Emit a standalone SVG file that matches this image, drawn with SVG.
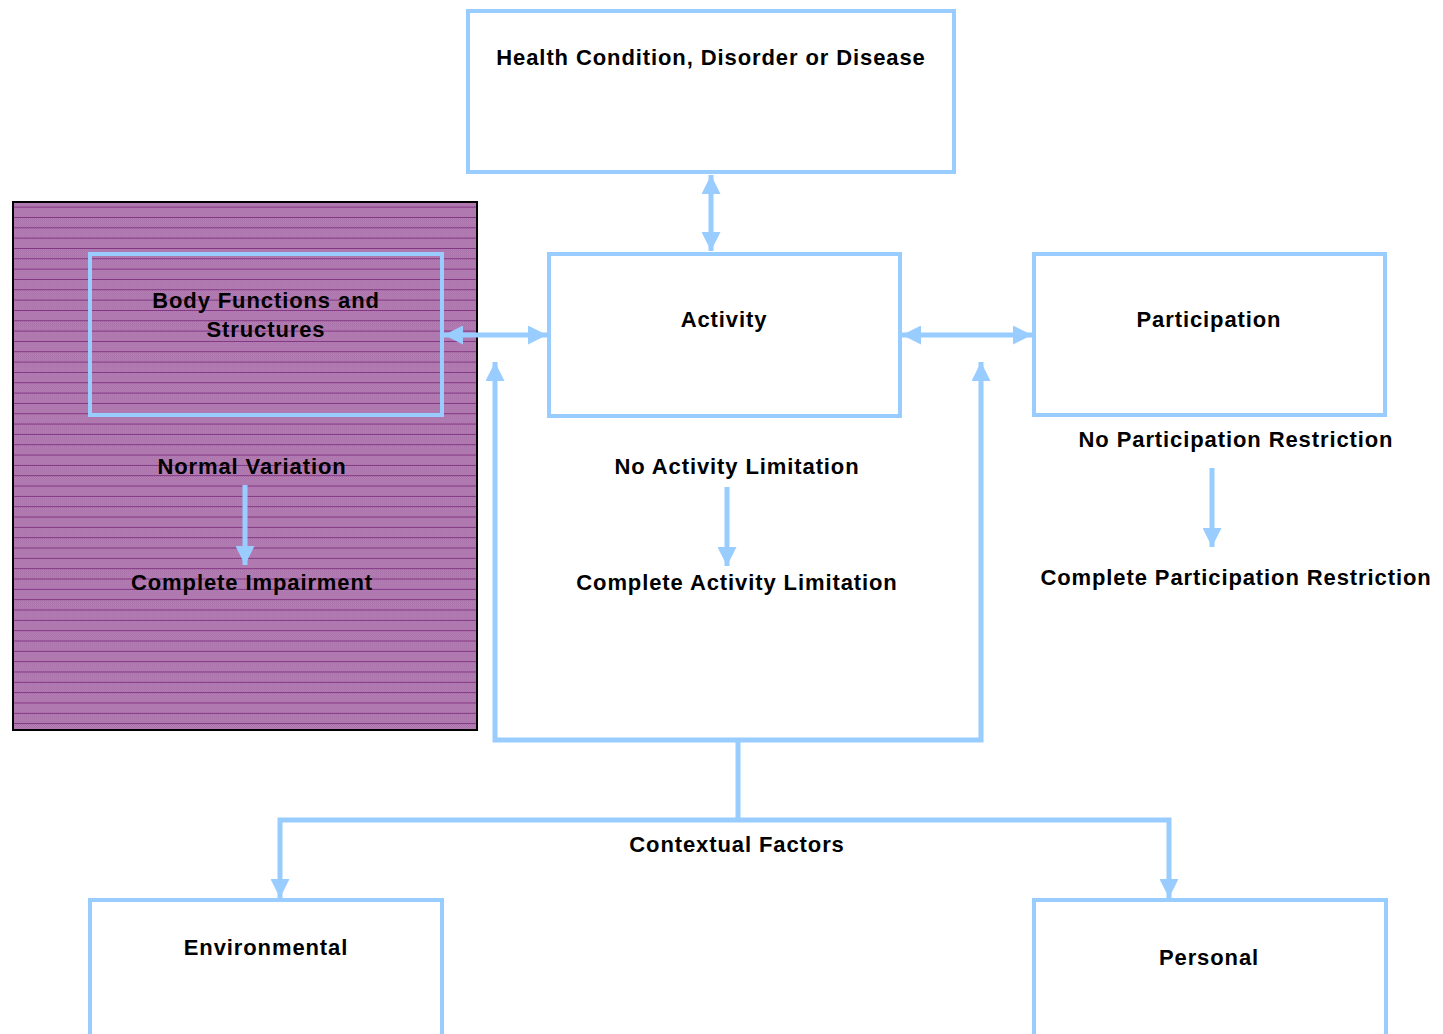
<svg xmlns="http://www.w3.org/2000/svg" width="1443" height="1034" viewBox="0 0 1443 1034">
<defs>
<style>
.box{fill:#ffffff;stroke:#99ccff;stroke-width:4}
.boxt{fill:none;stroke:#99ccff;stroke-width:4}
.c{fill:none;stroke:#99ccff;stroke-width:5}
.t{font-family:"Liberation Sans",Arial,sans-serif;font-weight:bold;font-size:22px;letter-spacing:0.9px;fill:#000;text-anchor:middle}
</style>
<pattern id="chk" patternUnits="userSpaceOnUse" x="0" y="0" width="2" height="2">
<rect width="2" height="2" fill="#b785b7"/>
<rect width="1" height="1" fill="#a86ea8"/>
<rect x="1" y="1" width="1" height="1" fill="#a86ea8"/>
</pattern>
<pattern id="hl" patternUnits="userSpaceOnUse" x="0" y="1" width="20" height="10.33">
<rect width="20" height="10.33" fill="url(#chk)"/>
<rect y="9.5" width="20" height="1.2" fill="#7a2a7a"/>
</pattern>
<marker id="ah" viewBox="0 0 10 10" refX="10" refY="5" markerWidth="3.8" markerHeight="3.8" orient="auto-start-reverse" markerUnits="strokeWidth">
<path d="M0,0 L10,5 L0,10 z" fill="#99ccff"/>
</marker>
</defs>
<g id="impairment-panel">
<rect x="13" y="202" width="464" height="528" fill="url(#hl)" stroke="#000" stroke-width="2"/>
</g>
<g id="health">
<rect class="box" x="468" y="11" width="486" height="161"/>
<text class="t" x="711" y="65">Health Condition, Disorder or Disease</text>
</g>
<g id="body">
<rect class="boxt" x="90" y="254" width="352" height="161"/>
<text class="t" x="266" y="308">Body Functions and</text>
<text class="t" x="266" y="337">Structures</text>
</g>
<g id="activity">
<rect class="box" x="549" y="254" width="351" height="162"/>
<text class="t" x="724" y="327">Activity</text>
</g>
<g id="participation">
<rect class="box" x="1034" y="254" width="351" height="161"/>
<text class="t" x="1209" y="327">Participation</text>
</g>
<g id="environmental">
<rect class="box" x="90" y="900" width="352" height="140"/>
<text class="t" x="266" y="955">Environmental</text>
</g>
<g id="personal">
<rect class="box" x="1034" y="900" width="352" height="140"/>
<text class="t" x="1209" y="965">Personal</text>
</g>
<g id="labels">
<text class="t" x="252" y="474">Normal Variation</text>
<text class="t" x="252" y="590">Complete Impairment</text>
<text class="t" x="737" y="474">No Activity Limitation</text>
<text class="t" x="737" y="590">Complete Activity Limitation</text>
<text class="t" x="1236" y="447">No Participation Restriction</text>
<text class="t" x="1236" y="585">Complete Participation Restriction</text>
<text class="t" x="737" y="852">Contextual Factors</text>
</g>
<g id="connectors">
<line class="c" x1="711" y1="175" x2="711" y2="251" marker-start="url(#ah)" marker-end="url(#ah)"/>
<line class="c" x1="444" y1="335" x2="547" y2="335" marker-start="url(#ah)" marker-end="url(#ah)"/>
<line class="c" x1="902" y1="335" x2="1032" y2="335" marker-start="url(#ah)" marker-end="url(#ah)"/>
<polyline class="c" points="738,820 738,740"/>
<polyline class="c" points="495,362 495,740 981,740 981,362" marker-start="url(#ah)" marker-end="url(#ah)"/>
<polyline class="c" points="280,898 280,820 1169,820 1169,898" marker-start="url(#ah)" marker-end="url(#ah)"/>
<line class="c" x1="245" y1="485" x2="245" y2="565" marker-end="url(#ah)"/>
<line class="c" x1="727" y1="487" x2="727" y2="566" marker-end="url(#ah)"/>
<line class="c" x1="1212" y1="468" x2="1212" y2="547" marker-end="url(#ah)"/>
</g>
</svg>
